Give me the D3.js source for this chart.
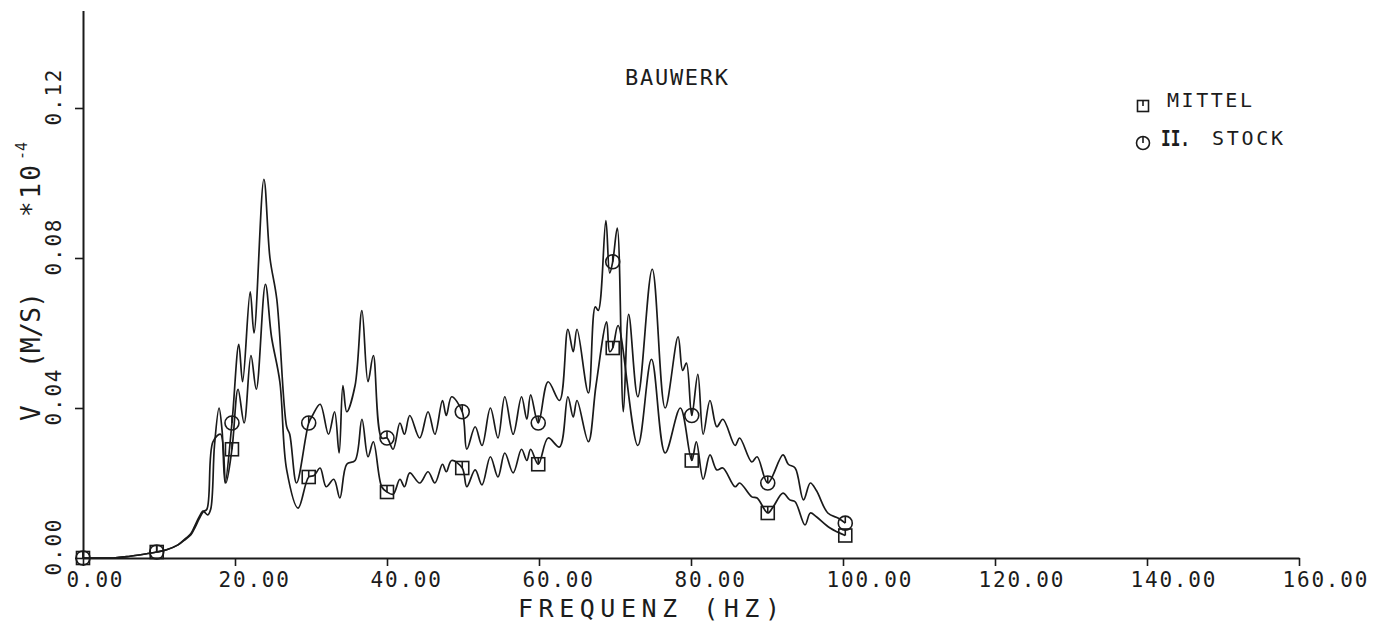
<!DOCTYPE html>
<html>
<head>
<meta charset="utf-8">
<script src="https://cdn.jsdelivr.net/npm/d3@7"></script>
<style>
  body { margin: 0; background: #fff; }
  svg { display: block; }
  text { font-family: "DejaVu Sans Mono", monospace; fill: #1c1c1c; }
</style>
</head>
<body>
<svg id="chart"></svg>
<script>
// tick values
var xTicks = [0, 20, 40, 60, 80, 100, 120, 140, 160];
var yTicks = [0, 0.04, 0.08, 0.12];

// II. STOCK (circles), Hz / V*1e4
var stockFreq = [0, 4, 6, 8, 9.7, 11, 12.5, 13.5, 14.2, 14.7, 15.3, 15.8, 16.4, 16.8, 17.3, 17.9, 18.3, 18.7, 19.6,
  20.5, 21.0, 22.0, 22.5, 23.8, 24.6, 25.5, 26.8, 27.2, 28.1, 29.7, 30.2, 31.2, 32.3, 33.1, 33.7, 34.2, 34.7, 35.8,
  36.7, 37.5, 38.2, 39.3, 40.0, 40.8, 41.7, 42.3, 43.0, 44.3, 45.4, 46.3, 47.3, 47.8, 48.5, 49.9, 50.5, 51.6, 52.5,
  53.6, 54.6, 55.5, 56.6, 57.7, 58.4, 58.9, 59.9, 61.2, 62.7, 63.8, 64.5, 65.0, 66.5, 67.4, 67.8, 68.8, 69.3, 69.7,
  70.3, 71.1, 71.8, 73.0, 74.9, 76.6, 78.3, 78.9, 79.4, 80.1, 80.9, 81.6, 82.5, 83.4, 84.2, 85.8, 86.4, 88.0, 88.7,
  90.1, 92.1, 92.8, 93.7, 94.8, 95.7, 96.5, 98.0, 99.4, 100.3];
var stockV = [0, 0, 0.0004, 0.0010, 0.0016, 0.0022, 0.0035, 0.0052, 0.0065, 0.0085, 0.011, 0.0125, 0.0115, 0.013, 0.030, 0.040, 0.034, 0.020, 0.036,
  0.057, 0.047, 0.071, 0.060, 0.101, 0.080, 0.069, 0.035, 0.033, 0.020, 0.036, 0.038, 0.041, 0.033, 0.039, 0.028, 0.046, 0.039, 0.046,
  0.066, 0.047, 0.054, 0.032, 0.032, 0.029, 0.036, 0.033, 0.038, 0.032, 0.039, 0.033, 0.042, 0.038, 0.043, 0.039, 0.029, 0.035, 0.030,
  0.040, 0.032, 0.043, 0.033, 0.043, 0.037, 0.0435, 0.036, 0.047, 0.042, 0.061, 0.055, 0.061, 0.044, 0.067, 0.066, 0.090, 0.076, 0.079,
  0.088, 0.039, 0.065, 0.043, 0.077, 0.040, 0.059, 0.050, 0.052, 0.038, 0.049, 0.033, 0.042, 0.035, 0.037, 0.030, 0.032, 0.0256, 0.027,
  0.020, 0.0275, 0.025, 0.024, 0.0155, 0.020, 0.018, 0.012, 0.0106, 0.0093];

// MITTEL (squares)
var mittelFreq = [0, 4, 6, 8, 9.7, 11, 12.5, 13.5, 14.2, 14.7, 15.3, 15.8, 16.3, 17.1, 18.1, 18.8, 19.6,
  20.4, 21.2, 22.1, 22.8, 24.0, 24.8, 25.9, 26.8, 28.3, 29.7, 30.4, 31.2, 32.0, 33.0, 33.8, 34.7, 35.8,
  36.7, 37.5, 38.2, 39.3, 40.0, 40.8, 41.7, 42.3, 43.0, 44.3, 45.4, 46.3, 47.3, 47.8, 48.5, 49.9, 50.5, 51.6, 52.5,
  53.6, 54.6, 55.5, 56.6, 57.7, 58.4, 58.9, 59.9, 61.2, 62.7, 63.8, 64.5, 65.0, 66.5, 67.5, 68.9, 69.3, 69.7,
  70.4, 73.0, 74.8, 76.6, 78.6, 80.1, 80.7, 81.6, 82.5, 83.4, 84.2, 85.8, 86.4, 88.0, 88.7,
  90.1, 90.8, 92.1, 93.0, 93.7, 95.0, 95.7, 96.5, 98.3, 100.3];
var mittelV = [0, 0, 0.0004, 0.0010, 0.0016, 0.0022, 0.0035, 0.0050, 0.0062, 0.008, 0.0105, 0.0123, 0.013, 0.031, 0.033, 0.020, 0.029,
  0.045, 0.036, 0.054, 0.045, 0.073, 0.059, 0.047, 0.0235, 0.0133, 0.0216, 0.022, 0.024, 0.019, 0.021, 0.016, 0.025, 0.026,
  0.037, 0.027, 0.031, 0.019, 0.0176, 0.017, 0.021, 0.019, 0.0227, 0.020, 0.023, 0.020, 0.025, 0.023, 0.026, 0.024, 0.019, 0.0235, 0.0195,
  0.027, 0.0216, 0.028, 0.0227, 0.029, 0.026, 0.029, 0.025, 0.032, 0.0296, 0.043, 0.0376, 0.042, 0.031, 0.046, 0.063, 0.055, 0.056,
  0.062, 0.030, 0.053, 0.028, 0.040, 0.026, 0.031, 0.021, 0.0275, 0.0235, 0.024, 0.019, 0.020, 0.0163, 0.016,
  0.012, 0.0136, 0.0173, 0.0155, 0.015, 0.0088, 0.012, 0.011, 0.008, 0.006];

// where the plotter put its symbols
var stockMarks = [0, 9.7, 19.6, 29.7, 40.0, 49.9, 59.9, 69.7, 80.1, 90.1, 100.3];
var mittelMarks = [0, 9.7, 19.6, 29.7, 40.0, 49.9, 59.9, 69.7, 80.1, 90.1, 100.3];

var W = 1388, H = 624;
var svg = d3.select("#chart").attr("width", W).attr("height", H);
svg.append("rect").attr("width", W).attr("height", H).attr("fill", "#fff");

var x = d3.scaleLinear().domain([0, 160]).range([83, 1299]);
var y = d3.scaleLinear().domain([0, 0.146]).range([558, 10.5]);
var ink = "#1a1a1a";

// x axis
var gx = svg.append("g")
    .attr("transform", "translate(0," + y(0) + ")")
    .call(d3.axisBottom(x).tickValues(xTicks).tickSize(8).tickSizeOuter(0).tickFormat(d3.format(".2f")));
gx.select(".domain").attr("stroke", ink).attr("stroke-width", 2);
gx.selectAll(".tick line").attr("stroke", ink).attr("stroke-width", 1.6);
gx.selectAll(".tick text")
    .attr("x", -17).attr("y", 29).attr("dy", 0)
    .attr("text-anchor", "start")
    .style("font-size", "21px").style("letter-spacing", "1.8px")
    .attr("fill", ink);

// y axis
var gy = svg.append("g")
    .attr("transform", "translate(" + x(0) + ",0)")
    .call(d3.axisLeft(y).tickValues(yTicks).tickSize(8).tickSizeOuter(0).tickFormat(d3.format(".2f")));
gy.select(".domain").attr("stroke", ink).attr("stroke-width", 2);
gy.selectAll(".tick line").attr("stroke", ink).attr("stroke-width", 1.6);
gy.selectAll(".tick text")
    .attr("transform", "rotate(-90)")
    .attr("x", -17).attr("y", -22).attr("dy", 0)
    .attr("text-anchor", "start")
    .style("font-size", "21px").style("letter-spacing", "1.8px")
    .attr("fill", ink);

// axis titles
svg.append("text")
    .attr("x", 518).attr("y", 617)
    .style("font-size", "25px")
    .attr("textLength", 262).attr("lengthAdjust", "spacing")
    .text("FREQUENZ (HZ)");

var yt = svg.append("g").attr("transform", "translate(40,0) rotate(-90)");
yt.append("text").attr("x", -421).attr("y", 0).style("font-size", "26px").text("V");
yt.append("text").attr("x", -368).attr("y", 0).style("font-size", "26px")
    .attr("textLength", 76).attr("lengthAdjust", "spacing").text("(M/S)");
yt.append("text").attr("x", -217).attr("y", 0).style("font-size", "26px")
    .attr("textLength", 52).attr("lengthAdjust", "spacing").text("*10");
yt.append("text").attr("x", -160).attr("y", -13).style("font-size", "15px").text("-4");

// title
svg.append("text")
    .attr("x", 625).attr("y", 85)
    .style("font-size", "22px")
    .attr("textLength", 103).attr("lengthAdjust", "spacing")
    .text("BAUWERK");

// curves
var line = d3.line()
    .x(function(d) { return x(d[0]); })
    .y(function(d) { return y(d[1]); })
    .curve(d3.curveCatmullRom.alpha(0.5));
var stockData = d3.zip(stockFreq, stockV);
var mittelData = d3.zip(mittelFreq, mittelV);

[stockData, mittelData].forEach(function(data) {
    svg.append("path")
        .datum(data)
        .attr("d", line)
        .attr("fill", "none")
        .attr("stroke", ink)
        .attr("stroke-width", 1.7);
});

// symbols
function square(g, cx, cy, s) {
    g.append("rect").attr("x", cx - s / 2).attr("y", cy - s / 2).attr("width", s).attr("height", s)
        .attr("fill", "none").attr("stroke", ink).attr("stroke-width", 1.6);
    g.append("line").attr("x1", cx).attr("x2", cx).attr("y1", cy - s / 2).attr("y2", cy)
        .attr("stroke", ink).attr("stroke-width", 1.6);
}
function circle(g, cx, cy, r) {
    g.append("circle").attr("cx", cx).attr("cy", cy).attr("r", r)
        .attr("fill", "none").attr("stroke", ink).attr("stroke-width", 1.6);
    g.append("line").attr("x1", cx).attr("x2", cx).attr("y1", cy - r).attr("y2", cy)
        .attr("stroke", ink).attr("stroke-width", 1.6);
}

var marks = svg.append("g");
mittelMarks.forEach(function(f) {
    var d = mittelData.find(function(p) { return p[0] === f; });
    square(marks, x(d[0]), y(d[1]), 13);
});
stockMarks.forEach(function(f) {
    var d = stockData.find(function(p) { return p[0] === f; });
    circle(marks, x(d[0]), y(d[1]), 7);
});

// legend
var lg = svg.append("g");
square(lg, 1143, 106, 11);
lg.append("text").attr("x", 1167).attr("y", 107).style("font-size", "20px")
    .attr("textLength", 85).attr("lengthAdjust", "spacing").text("MITTEL");
circle(lg, 1143, 143, 6.5);
lg.append("text").attr("x", 1161).attr("y", 146).style("font-size", "22px").style("font-weight", "bold")
    .attr("textLength", 29).attr("lengthAdjust", "spacingAndGlyphs").text("II.");
lg.append("text").attr("x", 1212).attr("y", 145).style("font-size", "20px")
    .attr("textLength", 71).attr("lengthAdjust", "spacing").text("STOCK");
</script>
</body>
</html>
